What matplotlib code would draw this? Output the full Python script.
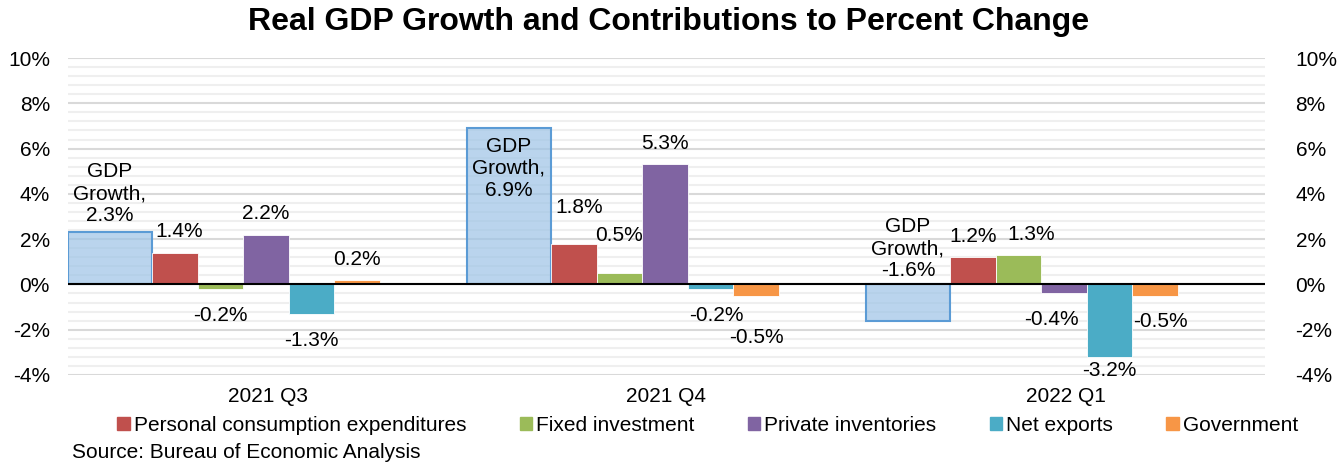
import matplotlib.pyplot as plt
import numpy as np
from matplotlib.patches import Patch
from matplotlib.ticker import MultipleLocator, FuncFormatter

plt.rcParams['font.family'] = ['Liberation Sans', 'DejaVu Sans']

quarters = ["2021 Q3", "2021 Q4", "2022 Q1"]
gdp = [2.3, 6.9, -1.6]
components = ["Personal consumption expenditures", "Fixed investment",
              "Private inventories", "Net exports", "Government"]
values = {
    "Personal consumption expenditures": [1.4, 1.8, 1.2],
    "Fixed investment": [-0.2, 0.5, 1.3],
    "Private inventories": [2.2, 5.3, -0.4],
    "Net exports": [-1.3, -0.2, -3.2],
    "Government": [0.2, -0.5, -0.5],
}
colors = ["#C0504D", "#9BBB59", "#8064A2", "#4BACC6", "#F79646"]
# label shift (dx, extra dy away from bar) in points, as placed in the original
nudge = {
    "Personal consumption expenditures": [(3, 0), (4, 11), (0, 0)],
    "Fixed investment": [(0, 0), (0, 12), (9, 0)],
    "Private inventories": [(0, 0), (0, 0), (-9, 0)],
    "Net exports": [(0, 0), (4, 0), (0, -9)],
    "Government": [(0, 0), (0, 11), (4, 0)],
}

FS = 15

fig = plt.figure(figsize=(13.38, 4.66), dpi=100)
ax = fig.add_axes([68 / 1338, 91 / 466, 1197 / 1338, 317 / 466])

x = np.arange(len(quarters))
gdp_w = 84 / 399
w = 45.6 / 399

ax.bar(x, gdp, width=gdp_w, align="edge", color="#9DC3E6", alpha=0.7,
       linewidth=0, zorder=2)
ax.bar(x, gdp, width=gdp_w, align="edge", fill=False,
       edgecolor="#5B9BD5", linewidth=1.5, zorder=3)

for j, name in enumerate(components):
    xs = x + gdp_w + j * w
    ax.bar(xs, values[name], width=w, align="edge", color=colors[j],
           edgecolor="white", linewidth=0.6, zorder=3)
    for i, v in enumerate(values[name]):
        dx, dy = nudge[name][i]
        if v >= 0:
            ax.annotate(f"{v:.1f}%", (xs[i] + w / 2, v), xytext=(dx, 11 + dy),
                        textcoords="offset points", ha="center", va="baseline",
                        fontsize=FS)
        else:
            ax.annotate(f"{v:.1f}%", (xs[i] + w / 2, v), xytext=(dx, -12 - dy),
                        textcoords="offset points", ha="center", va="top",
                        fontsize=FS)

# GDP labels
gx = x + gdp_w / 2
ax.annotate(f"GDP\nGrowth,\n{gdp[0]:.1f}%", (gx[0], gdp[0]), xytext=(0, 5),
            textcoords="offset points", ha="center", va="bottom", fontsize=FS,
            linespacing=1.2)
ax.annotate(f"GDP\nGrowth,\n{gdp[1]:.1f}%", (gx[1], gdp[1]), xytext=(0, -6),
            textcoords="offset points", ha="center", va="top", fontsize=FS,
            linespacing=1.2)
ax.annotate(f"GDP\nGrowth,\n{gdp[2]:.1f}%", (gx[2], 0), xytext=(0, 3),
            textcoords="offset points", ha="center", va="bottom", fontsize=FS,
            linespacing=1.2)

ax.axhline(0, color="black", linewidth=1.5, zorder=4)

ax.set_xlim(0, 3)
ax.set_ylim(-4, 10)
ax.yaxis.set_major_locator(MultipleLocator(2))
ax.yaxis.set_minor_locator(MultipleLocator(0.4))
pct = FuncFormatter(lambda v, p: f"{v:.0f}%")
ax.yaxis.set_major_formatter(pct)
ax.grid(axis="y", which="major", color="#D9D9D9", linewidth=1.5, zorder=0)
ax.grid(axis="y", which="minor", color="#EFEFEF", linewidth=1.5, zorder=0)
ax.set_axisbelow(True)
ax.set_xticks(x + 0.5)
ax.set_xticklabels(quarters, fontsize=FS)
ax.tick_params(axis="x", length=0, pad=9)
ax.tick_params(axis="y", which="both", length=0, labelsize=FS, pad=13)
for s in ax.spines.values():
    s.set_visible(False)

ax2 = ax.twinx()
ax2.set_ylim(-4, 10)
ax2.yaxis.set_major_locator(MultipleLocator(2))
ax2.yaxis.set_major_formatter(pct)
ax2.tick_params(axis="y", length=0, labelsize=FS, pad=22)
for s in ax2.spines.values():
    s.set_visible(False)

fig.suptitle("Real GDP Growth and Contributions to Percent Change",
             fontsize=23, fontweight="bold", y=0.985, x=0.5)

handles = [Patch(color=c, label=n) for c, n in zip(colors, components)]
fig.legend(handles=handles, loc="center", bbox_to_anchor=(0.529, 0.087), ncol=5,
           frameon=False, fontsize=FS, handlelength=0.6, handleheight=0.6,
           handletextpad=0.2, columnspacing=2.55)

fig.text(72 / 1338, 1 - 453 / 466, "Source: Bureau of Economic Analysis",
         fontsize=FS, va="center", ha="left")

fig.savefig("out.png", dpi=100)
